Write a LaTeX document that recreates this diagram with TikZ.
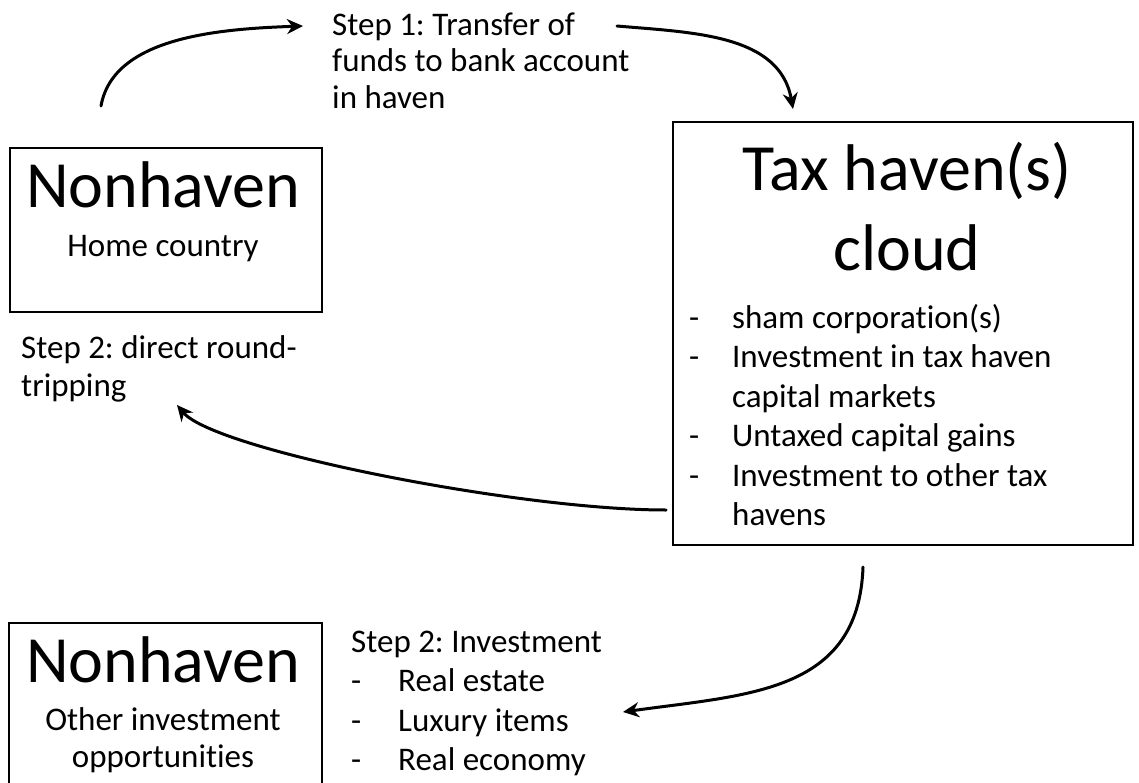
\documentclass[tikz,border=0pt]{standalone}
\usepackage{fontspec}
\setmainfont{Carlito}[Ligatures=NoCommon]
\frenchspacing
\usetikzlibrary{arrows.meta}
\begin{document}
\begin{tikzpicture}[line cap=round,>={Stealth[length=16pt,width=15pt]},x=1pt,y=1pt,
  box/.style={draw,line width=2.75pt,inner sep=0pt},
  big/.style={font=\fontsize{66}{80}\selectfont,inner sep=0pt},
  txt/.style={font=\fontsize{33}{39.5}\selectfont,inner sep=0pt},
  flow/.style={->,line width=3pt}]
\useasboundingbox (0,0) rectangle (1139,-783);
% boxes
\node[box,minimum width=312pt,minimum height=164pt] (home) at (166,-230) {};
\node[box,minimum width=460pt,minimum height=423pt] (haven) at (903,-333.5) {};
\node[box,minimum width=313pt,minimum height=164pt] (other) at (165.5,-705) {};
% box texts
\node[big,anchor=base] (hometitle) at (163,-208) {Nonhaven};
\node[txt,anchor=base] (homesub) at (163,-257) {Home country};
\node[big,anchor=north] (haventitle) at (907,-134) {\begin{tabular}{@{}c@{}}Tax haven(s)\\cloud\end{tabular}};
\node[txt,anchor=north west] (havenlist) at (689,-300.35) {\begin{tabular}{@{}p{43pt}@{}l@{}}
- & sham corporation(s)\\
- & Investment in tax haven\\
  & capital markets\\
- & Untaxed capital gains\\
- & Investment to other tax\\
  & havens\end{tabular}};
\node[big,anchor=base] (othertitle) at (163,-682) {Nonhaven};
\node[txt,font=\fontsize{33}{37.5}\selectfont,anchor=north] (othersub) at (163,-703.75) {\begin{tabular}{@{}c@{}}Other investment\\opportunities\end{tabular}};
% step labels
\node[txt,font=\fontsize{33}{36.5}\selectfont,anchor=north west] (step1) at (332,-9.45) {\begin{tabular}{@{}l@{}}Step 1: Transfer of\\funds to bank account\\in haven\end{tabular}};
\node[txt,font=\fontsize{33}{38}\selectfont,anchor=north west] (step2a) at (21,-331.4) {\begin{tabular}{@{}l@{}}Step 2: direct round-\\tripping\end{tabular}};
\node[txt,anchor=north west] (step2b) at (351,-624.35) {\begin{tabular}{@{}p{47pt}@{}l@{}}
\multicolumn{2}{@{}l@{}}{Step 2: Investment}\\
- & Real estate\\
- & Luxury items\\
- & Real economy\end{tabular}};
% arrow ends
\coordinate (a1) at (101,-106);
\coordinate (b1) at (303,-26);
\coordinate (a2) at (617,-26);
\coordinate (b2) at (793,-109);
\coordinate (a3) at (666,-510);
\coordinate (b3) at (177,-405);
\coordinate (a4) at (863,-567);
\coordinate (b4) at (623,-712);
\draw[flow] (a1) to[out=80,in=182,out looseness=0.82] (b1);
\draw[flow] (a2) to[out=-5,in=100] (b2);
\draw[flow] (a3) to[out=180,in=-50,out looseness=0.76,in looseness=0.3] (b3);
\draw[flow] (a4) to[out=-92,in=8,looseness=1.15] (b4);
\end{tikzpicture}
\end{document}
